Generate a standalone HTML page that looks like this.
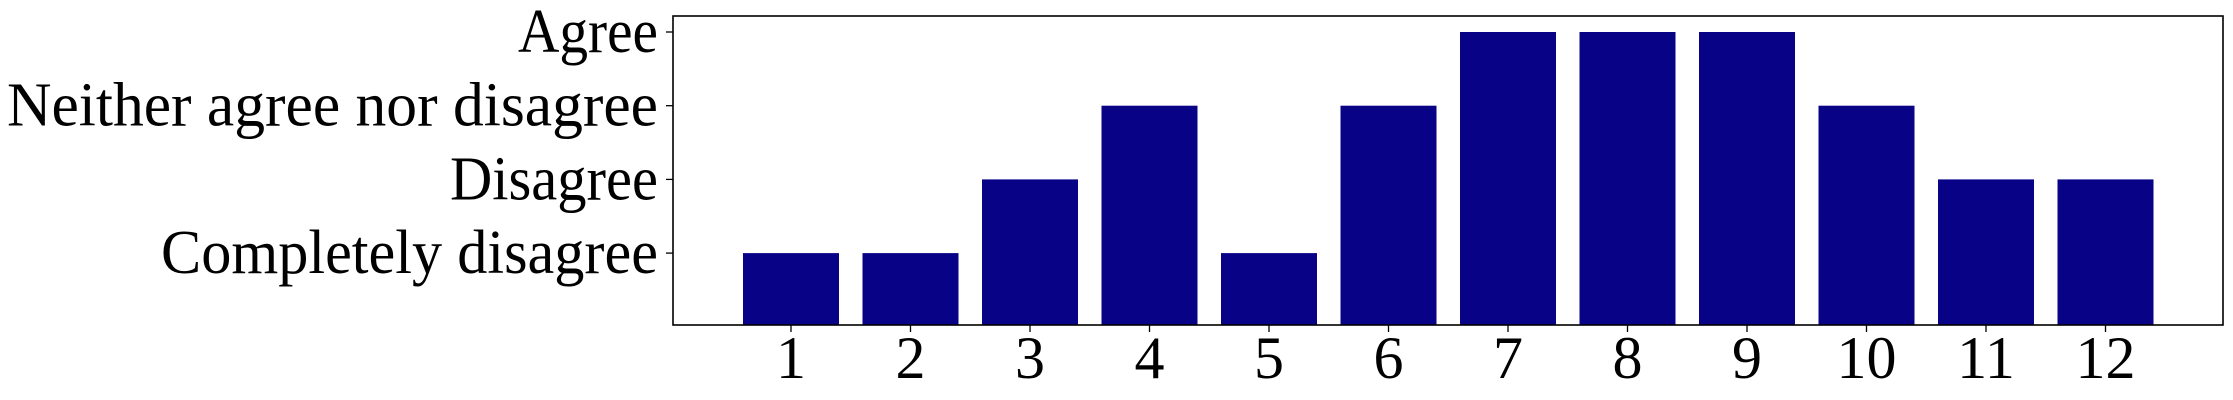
<!DOCTYPE html>
<html><head><meta charset="utf-8"><style>
html,body{margin:0;padding:0;background:#fff;width:2233px;height:400px;overflow:hidden}
svg text{font-family:"Liberation Serif","DejaVu Serif","Times New Roman",serif !important;fill:#000}
</style></head><body>
<svg id="chart" width="2233" height="400" viewBox="0 0 2233 400" xmlns="http://www.w3.org/2000/svg" font-family="Liberation Serif, DejaVu Serif, serif">
<rect x="673" y="16" width="1550" height="309" fill="#fff"/>
<g id="bars"></g>
<g id="yaxis"></g>
<g id="xaxis"></g>
<rect x="673" y="16" width="1550" height="309" fill="none" stroke="#000" stroke-width="1.6"/>
</svg>
<script>
const categories = ["1","2","3","4","5","6","7","8","9","10","11","12"];
const values = [1,1,2,3,1,3,4,4,4,3,2,2];
const yTickValues = [1,2,3,4];
const yTickLabels = ["Completely disagree","Disagree","Neither agree nor disagree","Agree"];
const yLabelWidths = [497,208,651,140];

const NS = "http://www.w3.org/2000/svg";
const plotBottom = 325;
function xPos(i){ return 791 + i*119.5; }
function yPos(v){ return 32 + (4 - v)*73.7; }
const barW = 96;

const gb = document.getElementById('bars');
values.forEach((v,i)=>{
  const r = document.createElementNS(NS,'rect');
  
  
  r.setAttribute('x', xPos(i) - barW/2);
  r.setAttribute('y', yPos(v));
  r.setAttribute('width', barW);
  r.setAttribute('height', plotBottom - yPos(v));
  r.setAttribute('fill', '#080386');
  gb.appendChild(r);
});

const gy = document.getElementById('yaxis');
yTickValues.forEach((v,i)=>{
  const y = yPos(v);
  const t = document.createElementNS(NS,'line');
  
  
  t.setAttribute('x1', 666); t.setAttribute('x2', 673);
  t.setAttribute('y1', y); t.setAttribute('y2', y);
  t.setAttribute('stroke', '#000'); t.setAttribute('stroke-width', '1.3');
  gy.appendChild(t);
  const tx = document.createElementNS(NS,'text');
  
  
  tx.setAttribute('x', 658);
  tx.setAttribute('y', y + 20);
  tx.setAttribute('text-anchor', 'end');
  tx.setAttribute('font-size', '62');
  tx.setAttribute('font-family', 'Liberation Serif, serif');
  tx.setAttribute('textLength', yLabelWidths[i]);
  tx.setAttribute('lengthAdjust', 'spacingAndGlyphs');
  tx.textContent = yTickLabels[i];
  gy.appendChild(tx);
});

const gx = document.getElementById('xaxis');
categories.forEach((c,i)=>{
  const x = xPos(i);
  const t = document.createElementNS(NS,'line');
  
  
  t.setAttribute('x1', x); t.setAttribute('x2', x);
  t.setAttribute('y1', 325); t.setAttribute('y2', 332);
  t.setAttribute('stroke', '#000'); t.setAttribute('stroke-width', '1.3');
  gx.appendChild(t);
  const tx = document.createElementNS(NS,'text');
  
  
  tx.setAttribute('x', x);
  tx.setAttribute('y', 378);
  tx.setAttribute('text-anchor', 'middle');
  tx.setAttribute('font-size', '60');
  tx.setAttribute('font-family', 'Liberation Serif, serif');
  tx.textContent = c;
  gx.appendChild(tx);
});
</script>
</body></html>
